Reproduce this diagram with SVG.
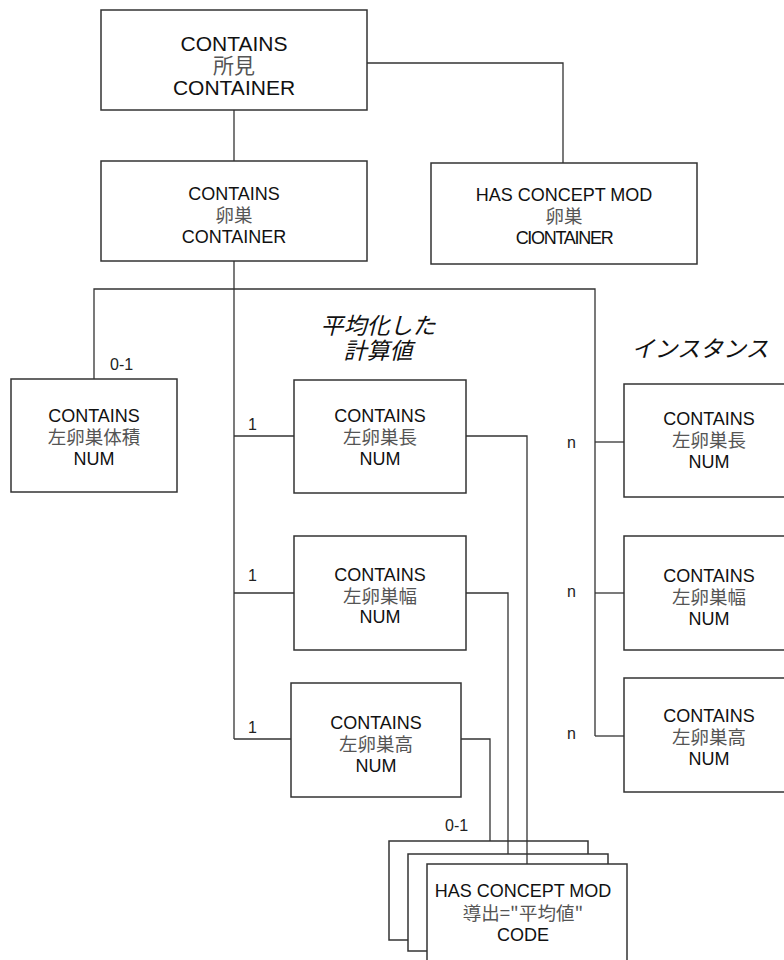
<svg xmlns="http://www.w3.org/2000/svg" width="784" height="960" viewBox="0 0 784 960">
<style>
.box{fill:#fff;stroke:#333;stroke-width:1.5}
.ln{fill:none;stroke:#333;stroke-width:1.3}
.t{font-family:"Liberation Sans",Arial,sans-serif;font-size:18px;fill:#111;text-anchor:middle}
.k{font-family:"Noto Sans CJK JP","Noto Sans CJK SC",sans-serif;font-size:18.5px;fill:#555;text-anchor:middle}
.big{font-size:21px}
.lbl{font-family:"Liberation Sans",Arial,sans-serif;font-size:16px;fill:#222}
.it{font-family:"Noto Sans CJK JP","Noto Sans CJK SC",sans-serif;font-size:23px;font-style:italic;fill:#111;text-anchor:middle}
</style>
<rect width="784" height="960" fill="#fff"/>
<g id="n-shoken">
<rect class="box" x="101" y="10" width="266" height="100"/>
<text class="t big" x="234" y="51">CONTAINS</text>
<text class="k big" x="234" y="73">所見</text>
<text class="t big" x="234" y="95">CONTAINER</text>
</g>
<g id="n-ransou">
<rect class="box" x="101" y="161" width="266" height="100"/>
<text class="t" x="234" y="200">CONTAINS</text>
<text class="k" x="234" y="222">卵巣</text>
<text class="t" x="234" y="243">CONTAINER</text>
</g>
<g id="n-mod-ransou">
<rect class="box" x="431" y="163" width="266" height="101"/>
<text class="t" x="564" y="201">HAS CONCEPT MOD</text>
<text class="k" x="564" y="223">卵巣</text>
<text class="t" x="564" y="244" letter-spacing="-1.3">CIONTAINER</text>
</g>
<g id="n-volume">
<rect class="box" x="11" y="379" width="166" height="113"/>
<text class="t" x="94" y="422">CONTAINS</text>
<text class="k" x="94" y="444">左卵巣体積</text>
<text class="t" x="94" y="465">NUM</text>
</g>
<g id="n-len-avg">
<rect class="box" x="294" y="380" width="172" height="113"/>
<text class="t" x="380" y="422">CONTAINS</text>
<text class="k" x="380" y="444">左卵巣長</text>
<text class="t" x="380" y="465">NUM</text>
</g>
<g id="n-wid-avg">
<rect class="box" x="294" y="536" width="172" height="114"/>
<text class="t" x="380" y="581">CONTAINS</text>
<text class="k" x="380" y="603">左卵巣幅</text>
<text class="t" x="380" y="623">NUM</text>
</g>
<g id="n-hgt-avg">
<rect class="box" x="291" y="683" width="170" height="114"/>
<text class="t" x="376" y="729">CONTAINS</text>
<text class="k" x="376" y="751">左卵巣高</text>
<text class="t" x="376" y="772">NUM</text>
</g>
<g id="n-len-inst">
<rect class="box" x="624" y="384" width="172" height="113"/>
<text class="t" x="709" y="425">CONTAINS</text>
<text class="k" x="709" y="447">左卵巣長</text>
<text class="t" x="709" y="468">NUM</text>
</g>
<g id="n-wid-inst">
<rect class="box" x="624" y="536" width="172" height="114"/>
<text class="t" x="709" y="582">CONTAINS</text>
<text class="k" x="709" y="604">左卵巣幅</text>
<text class="t" x="709" y="625">NUM</text>
</g>
<g id="n-hgt-inst">
<rect class="box" x="624" y="678" width="172" height="114"/>
<text class="t" x="709" y="722">CONTAINS</text>
<text class="k" x="709" y="744">左卵巣高</text>
<text class="t" x="709" y="765">NUM</text>
</g>
<g id="n-derived">
<rect class="box" x="389" y="841" width="199" height="99"/>
<rect class="box" x="408" y="854" width="200" height="97"/>
<rect class="box" x="427" y="864" width="200" height="110"/>
<text class="t" x="523" y="897">HAS CONCEPT MOD</text>
<text class="k" x="523" y="920">導出="平均値"</text>
<text class="t" x="523" y="941">CODE</text>
</g>
<g id="headings">
<text class="it" x="378" y="334">平均化した</text>
<text class="it" x="378" y="359">計算値</text>
<text class="it" x="700" y="357">インスタンス</text>
</g>
<g id="connectors">
<path class="ln" d="M367,63 H563 V163"/>
<path class="ln" d="M234,110 V161"/>
<path class="ln" d="M234,261 V739"/>
<path class="ln" d="M94,379 V289 H595 V736"/>
<path class="ln" d="M234,436 H294"/>
<path class="ln" d="M234,593 H294"/>
<path class="ln" d="M234,739 H291"/>
<path class="ln" d="M466,436 H527 V864"/>
<path class="ln" d="M466,593 H508 V854"/>
<path class="ln" d="M461,739 H490 V841"/>
<path class="ln" d="M595,442 H624"/>
<path class="ln" d="M595,593 H624"/>
<path class="ln" d="M595,736 H624"/>
</g>
<g id="labels">
<text class="lbl" x="110" y="370">0-1</text>
<text class="lbl" x="248" y="430">1</text>
<text class="lbl" x="248" y="581">1</text>
<text class="lbl" x="248" y="733">1</text>
<text class="lbl" x="567" y="448">n</text>
<text class="lbl" x="567" y="597">n</text>
<text class="lbl" x="567" y="739">n</text>
<text class="lbl" x="445" y="831">0-1</text>
</g>
</svg>
